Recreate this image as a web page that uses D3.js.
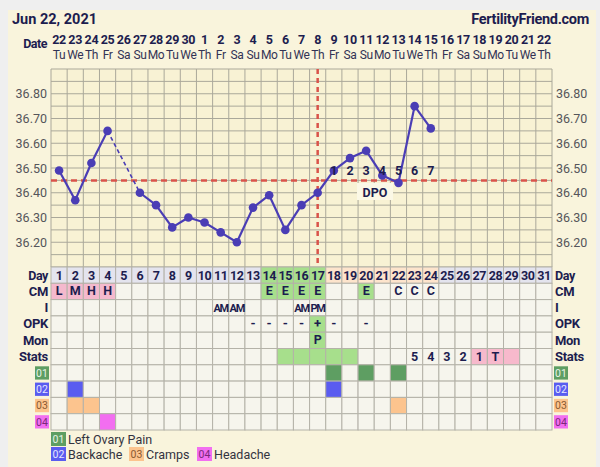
<!DOCTYPE html>
<html><head><meta charset="utf-8">
<script src="https://cdnjs.cloudflare.com/ajax/libs/d3/7.8.5/d3.min.js"></script>
<style>
html,body{margin:0;padding:0;background:#efefef;}
svg{display:block;}
text{font-family:Roboto,"Noto Sans",sans-serif;}
</style></head>
<body>
<script>
// ---------- DATA ----------
const title = "Jun 22, 2021";
const site = "FertilityFriend.com";
const cycleDays = d3.range(1, 32);
const dates = [22,23,24,25,26,27,28,29,30,1,2,3,4,5,6,7,8,9,10,11,12,13,14,15,16,17,18,19,20,21,22];
const weekdays = ["Tu","We","Th","Fr","Sa","Su","Mo","Tu","We","Th","Fr","Sa","Su","Mo","Tu","We","Th","Fr","Sa","Su","Mo","Tu","We","Th","Fr","Sa","Su","Mo","Tu","We","Th"];
const temps = [36.49,36.37,36.52,36.65,null,36.40,36.35,36.26,36.30,36.28,36.24,36.20,36.34,36.39,36.25,36.35,36.40,36.49,36.54,36.57,36.47,36.44,36.75,36.66];
const tempTicks = [36.20,36.30,36.40,36.50,36.60,36.70,36.80];
const coverline = 36.45;
const ovulationDay = 17;
const dpoDays = [18,19,20,21,22,23,24];
const dpoLabels = ["1","2","3","4","5","6","7"];
const dayPhase = {fertile:[14,15,16,17], luteal:[18,19,20,21,22,23,24]};
const cmDays = [1,2,3,4,14,15,16,17,20,22,23,24];
const cmValues = ["L","M","H","H","E","E","E","E","E","C","C","C"];
const iDays = [11,12,16,17];
const iValues = ["AM","AM","AM","PM"];
const opkDays = [13,14,15,16,17,18,20];
const opkValues = ["-","-","-","-","+","-","-"];
const monDays = [17];
const monValues = ["P"];
const statsGreenDays = [15,16,17,18,19];
const statsPinkDays = [27,28,29];
const statsDays = [23,24,25,26,27,28];
const statsValues = ["5","4","3","2","1","T"];
const symptomCodes = ["01","02","03","04"];
const symptomNames = ["Left Ovary Pain","Backache","Cramps","Headache"];
const symptomDays = [[18,20,22],[2,18],[2,3,22],[4]];
const rowLabels = ["Day","CM","I","OPK","Mon","Stats"];

// ---------- STYLE ----------
const navy = "#1d1d4f";
const symFill = ["#5e9e62","#5a5cf0","#fcc48e","#f26ef0"];
const symText = ["#e8f4e8","#e6e6ff","#8a5a30","#7a2a7a"];
const W = 600, H = 467;
const gx0 = 51, gx1 = 552, gTop = 69, gBot = 267, rowH = 16.3;
const serifF = "'Liberation Serif','DejaVu Serif',serif";

const svg = d3.select("body").append("svg").attr("width", W).attr("height", H);
svg.append("rect").attr("x",8).attr("y",10).attr("width",588).attr("height",H-10).attr("fill","#f9f4dc");

const x = d3.scaleBand().domain(cycleDays).range([gx0, gx1]).padding(0);
const cw = x.bandwidth();
const cx = d => x(d) + cw/2;
const y = d3.scaleLinear().domain([36.10, 36.90]).range([gBot, gTop]);

// Header
svg.append("text").attr("x",12).attr("y",24).attr("font-size",14.5).attr("font-weight","bold").attr("fill",navy).text(title);
svg.append("text").attr("x",589).attr("y",24).attr("text-anchor","end").attr("font-size",14.5).attr("font-weight","bold").attr("fill",navy).attr("letter-spacing","-0.3").text(site);
svg.append("text").attr("x",47).attr("y",48).attr("text-anchor","end").attr("font-size",12.5).attr("font-weight","bold").attr("fill",navy).attr("letter-spacing","-0.5").text("Date");
svg.append("g").selectAll("text").data(cycleDays).join("text")
  .attr("x", d=>cx(d)).attr("y",44).attr("text-anchor","middle").attr("font-size",12.5).attr("font-weight","bold").attr("fill",navy).attr("letter-spacing","-0.3")
  .text((d,i)=>dates[i]);
svg.append("g").selectAll("text").data(cycleDays).join("text")
  .attr("x", d=>cx(d)).attr("y",59).attr("text-anchor","middle").attr("font-size",12).attr("fill","#333355").attr("letter-spacing","-0.4")
  .text((d,i)=>weekdays[i]);

// Temperature grid
svg.append("rect").attr("x",gx0).attr("y",gTop).attr("width",gx1-gx0).attr("height",gBot-gTop).attr("fill","#f8f2d4");
const gridY = d3.range(0,17).map(i => 36.10 + i*0.05);
svg.append("g").selectAll("line").data(gridY).join("line")
  .attr("x1",gx0).attr("x2",gx1).attr("y1",d=>y(d)).attr("y2",d=>y(d)).attr("stroke","#aaa89a").attr("stroke-width",1);
const gridX = cycleDays.map(d=>x(d)).concat([gx1]);
svg.append("g").selectAll("line").data(gridX).join("line")
  .attr("x1",d=>d).attr("x2",d=>d).attr("y1",gTop).attr("y2",gBot).attr("stroke","#aaa89a").attr("stroke-width",1);

// Axes
const axL = svg.append("g").attr("transform",`translate(${gx0-4},0)`).call(d3.axisLeft(y).tickValues(tempTicks).tickSize(0).tickFormat(d3.format(".2f")));
const axR = svg.append("g").attr("transform",`translate(${gx1+4},0)`).call(d3.axisRight(y).tickValues(tempTicks).tickSize(0).tickFormat(d3.format(".2f")));
[axL,axR].forEach(a=>{a.select(".domain").remove(); a.selectAll("text").attr("font-size",12.5).attr("fill","#55555a").attr("font-family","Roboto, sans-serif");});
axL.selectAll("text").attr("x",0);
axR.selectAll("text").attr("x",0);

// Coverline & ovulation line
svg.append("line").attr("x1",gx0).attr("x2",gx1).attr("y1",y(coverline)).attr("y2",y(coverline))
  .attr("stroke","#d9534a").attr("stroke-width",2.5).attr("stroke-dasharray","6,4");
svg.append("line").attr("x1",cx(ovulationDay)).attr("x2",cx(ovulationDay)).attr("y1",gTop).attr("y2",gBot)
  .attr("stroke","#d9534a").attr("stroke-width",2.5).attr("stroke-dasharray","5,4");

// DPO box
svg.append("rect").attr("x",357).attr("y",183).attr("width",36).attr("height",17).attr("fill","#fbf8e6");
svg.append("text").attr("x",375).attr("y",197).attr("text-anchor","middle").attr("font-size",12.5).attr("font-weight","bold").attr("fill",navy).text("DPO");

// Temperature line
const pts = temps.map((t,i)=>({day:i+1,t})).filter(p=>p.t!=null);
const segs = [];
for (let i=1;i<pts.length;i++) segs.push({a:pts[i-1], b:pts[i], gap: pts[i].day - pts[i-1].day > 1});
svg.append("g").selectAll("line").data(segs).join("line")
  .attr("x1",s=>cx(s.a.day)).attr("y1",s=>y(s.a.t)).attr("x2",s=>cx(s.b.day)).attr("y2",s=>y(s.b.t))
  .attr("stroke","#4a3db5").attr("stroke-width",s=>s.gap?1.6:2.2).attr("stroke-dasharray",s=>s.gap?"4,3":null);
svg.append("g").selectAll("circle").data(pts).join("circle")
  .attr("cx",p=>cx(p.day)).attr("cy",p=>y(p.t)).attr("r",4.3).attr("fill","#4a3db5");

// DPO labels (on top of dots)
svg.append("g").selectAll("text").data(dpoDays).join("text")
  .attr("x",d=>cx(d)).attr("y",175).attr("text-anchor","middle").attr("font-size",12.5).attr("font-weight","bold").attr("fill",navy)
  .text((d,i)=>dpoLabels[i]);

// ---------- TABLE ----------
const tTop = gBot;
const rowY = r => tTop + r*rowH;
const nRows = 10;
const cells = [];
for (let r=0;r<nRows;r++) for (const d of cycleDays) cells.push({r,d});
function baseFill(c){
  if (c.r===0){
    if (dayPhase.fertile.includes(c.d)) return "#a7df8c";
    if (dayPhase.luteal.includes(c.d)) return "#fde4cc";
    return "#e4e4ee";
  }
  if (c.r===1){
    const k = cmDays.indexOf(c.d);
    if (k>=0){ const v=cmValues[k]; if (v==="E") return "#a7df8c"; if (v==="L"||v==="M"||v==="H") return "#f4b9cd"; }
  }
  if (c.r===3 && c.d===17) return "#a7df8c";
  if (c.r===4 && monDays.includes(c.d)) return "#a7df8c";
  if (c.r===5){
    if (statsGreenDays.includes(c.d)) return "#a7df8c";
    if (statsPinkDays.includes(c.d)) return "#f7b9cc";
  }
  if (c.r>=6){
    const s = c.r-6;
    if (symptomDays[s].includes(c.d)) return symFill[s];
  }
  return "#f6f5ed";
}
svg.append("g").selectAll("rect").data(cells).join("rect")
  .attr("x",c=>x(c.d)).attr("y",c=>rowY(c.r)).attr("width",cw).attr("height",rowH)
  .attr("fill",baseFill).attr("stroke","#b4b2a8").attr("stroke-width",1);

svg.append("g").selectAll("text").data(cycleDays).join("text")
  .attr("x",d=>cx(d)).attr("y",rowY(0)+12.5).attr("text-anchor","middle").attr("font-size",12.5).attr("font-weight","bold").attr("fill",navy).attr("letter-spacing","-0.4")
  .text(d=>d);
function rowText(r, days, vals, opts={}){
  svg.append("g").selectAll("text").data(days).join("text")
    .attr("x",d=>cx(d)).attr("y",rowY(r)+12).attr("text-anchor","middle")
    .attr("font-size",opts.size||12).attr("font-weight","bold").attr("fill",navy)
    .attr("font-family",opts.serif?serifF:"Roboto, sans-serif")
    .attr("letter-spacing",opts.ls||0)
    .text((d,i)=>vals[i]);
}
rowText(1, cmDays, cmValues, {serif:true, size:12.5});
rowText(2, iDays, iValues, {serif:true, size:11, ls:-1.2});
rowText(3, opkDays, opkValues, {serif:true, size:13});
rowText(4, monDays, monValues, {serif:true, size:12.5});
rowText(5, statsDays, statsValues, {size:12.5});

rowLabels.forEach((lab,r)=>{
  const isDay = r===0;
  svg.append("text").attr("x",48).attr("y",rowY(r)+12.5).attr("text-anchor","end")
    .attr("font-size",isDay?12.5:13).attr("font-weight","bold").attr("fill",navy)
    .attr("font-family",isDay?"Roboto, sans-serif":serifF).attr("letter-spacing",isDay?"-0.4":"-0.3").text(lab);
  svg.append("text").attr("x",555).attr("y",rowY(r)+12.5).attr("text-anchor","start")
    .attr("font-size",isDay?12.5:13).attr("font-weight","bold").attr("fill",navy)
    .attr("font-family",isDay?"Roboto, sans-serif":serifF).attr("letter-spacing",isDay?"-0.4":"-0.3").text(lab);
});
symptomCodes.forEach((code,s)=>{
  const r = 6+s;
  [35,554].forEach(bx=>{
    svg.append("rect").attr("x",bx).attr("y",rowY(r)+1.5).attr("width",14).attr("height",rowH-3).attr("fill",symFill[s]);
    svg.append("text").attr("x",bx+7).attr("y",rowY(r)+12).attr("text-anchor","middle").attr("font-size",10.5).attr("fill",symText[s]).text(code);
  });
});

// Legend
const legend = [
  {s:0, x:51, y:432},
  {s:1, x:51, y:447},
  {s:2, x:129, y:447},
  {s:3, x:197, y:447}
];
legend.forEach(l=>{
  svg.append("rect").attr("x",l.x).attr("y",l.y).attr("width",15).attr("height",14).attr("fill",symFill[l.s]);
  svg.append("text").attr("x",l.x+7.5).attr("y",l.y+11).attr("text-anchor","middle").attr("font-size",10.5).attr("fill",symText[l.s]).text(symptomCodes[l.s]);
  svg.append("text").attr("x",l.x+17).attr("y",l.y+11.5).attr("font-size",12.5).attr("fill","#333340").text(symptomNames[l.s]);
});
</script>
</body></html>
